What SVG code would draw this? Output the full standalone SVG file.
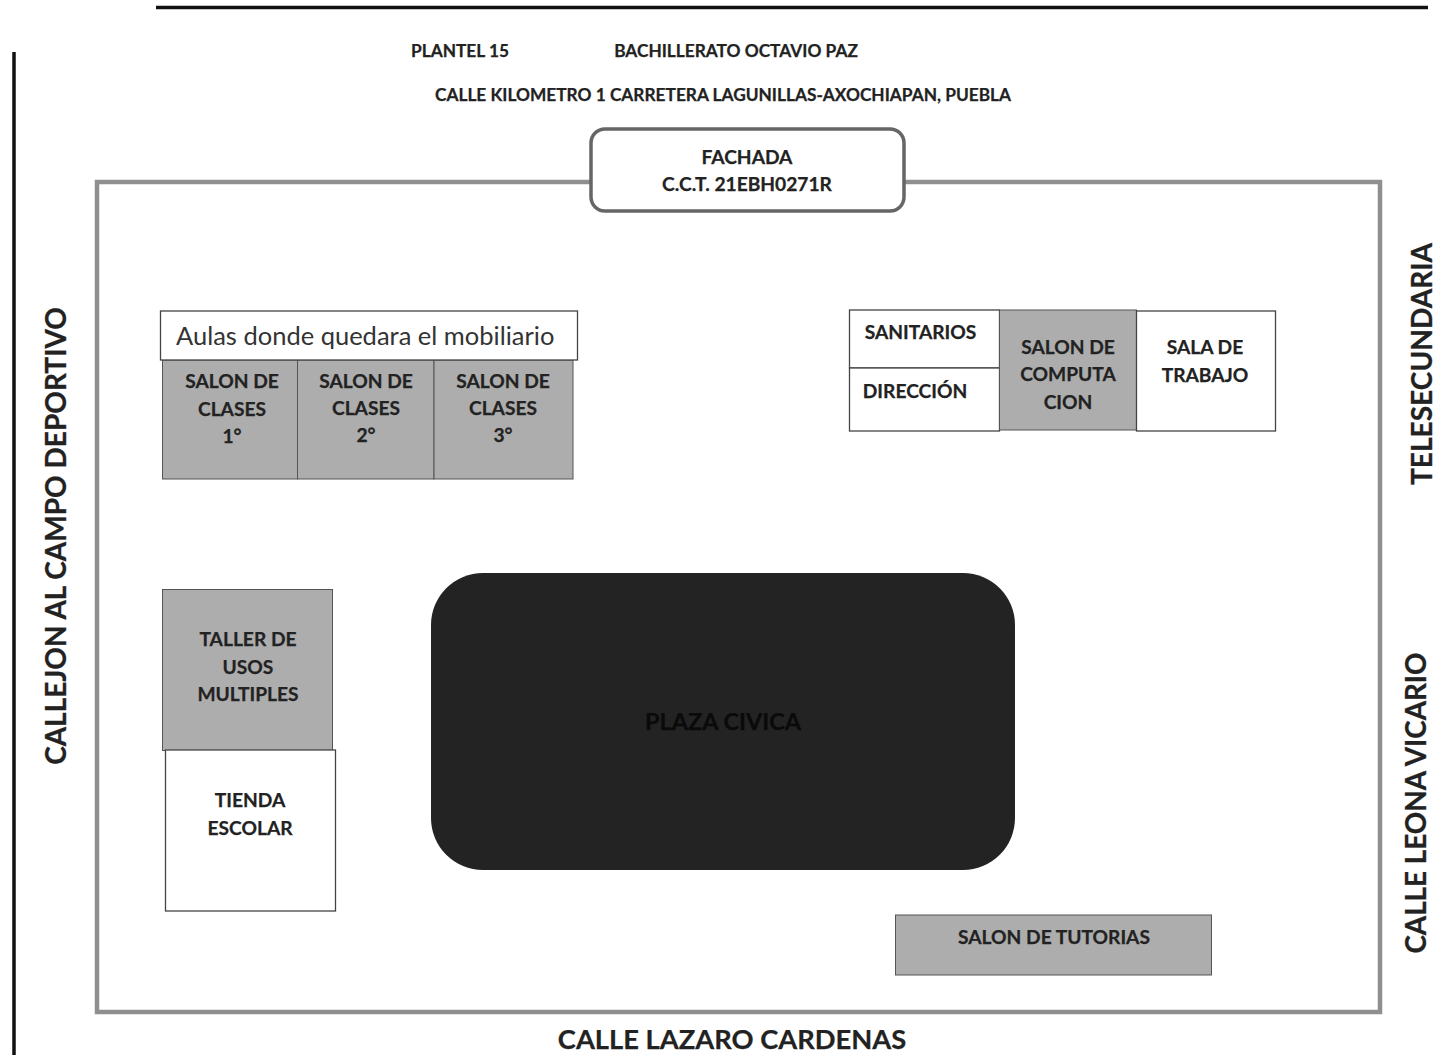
<svg xmlns="http://www.w3.org/2000/svg" width="1451" height="1055" viewBox="0 0 1451 1055">
<style>
.t{font-family:Lato,"Liberation Sans",sans-serif;font-weight:700;fill:#222;text-anchor:middle;stroke:#222;stroke-width:.25}
.s{font-size:19.200px}
.h{font-size:17.300px}
.b{font-size:28px}
.g{fill:#adadad;stroke:#555;stroke-width:1}
.w{fill:#fff;stroke:#444;stroke-width:1.3}
</style>
<rect width="1451" height="1055" fill="#fff"/>
<g id="page-lines" fill="none" stroke="#111">
<path d="M156 7.500H1428" stroke-width="3.500"/>
<path d="M14 52V1055" stroke-width="3.500"/>
</g>
<g id="headings">
<text class="t h" x="460" y="57">PLANTEL 15</text>
<text class="t h" x="736" y="57">BACHILLERATO OCTAVIO PAZ</text>
<text class="t h" x="723" y="101">CALLE KILOMETRO 1 CARRETERA LAGUNILLAS-AXOCHIAPAN, PUEBLA</text>
</g>
<g id="connectors">
<rect id="perimeter" x="97" y="182" width="1283" height="830" fill="#fff" stroke="#8f8f8f" stroke-width="4.500"/>
</g>
<g id="fachada">
<rect x="591" y="129" width="313" height="82" rx="14" fill="#fff" stroke="#666" stroke-width="3.500"/>
<text class="t s" x="747" y="164">FACHADA</text>
<text class="t s" x="747" y="191">C.C.T. 21EBH0271R</text>
</g>
<g id="aulas">
<rect class="g" x="162.500" y="360" width="135" height="119"/>
<rect class="g" x="297.500" y="360" width="136.500" height="119"/>
<rect class="g" x="434" y="360" width="139" height="119"/>
<rect class="w" x="160.500" y="311" width="417" height="49"/>
<text x="176" y="345" font-family="Lato,'Liberation Sans',sans-serif" font-size="25.500" fill="#333">Aulas donde quedara el mobiliario</text>
</g>
<g id="salon-1">
<text class="t s" x="232" y="388">SALON DE</text><text class="t s" x="232" y="416">CLASES</text><text class="t s" x="232" y="443">1°</text>
</g>
<g id="salon-2">
<text class="t s" x="366" y="388">SALON DE</text><text class="t s" x="366" y="415">CLASES</text><text class="t s" x="366" y="442">2°</text>
</g>
<g id="salon-3">
<text class="t s" x="503" y="388">SALON DE</text><text class="t s" x="503" y="415">CLASES</text><text class="t s" x="503" y="442">3°</text>
</g>
<g id="sanitarios">
<rect class="w" x="849.500" y="310" width="150" height="58"/>
<text class="t s" x="920.500" y="339">SANITARIOS</text>
</g>
<g id="direccion">
<rect class="w" x="849.500" y="368" width="150" height="63"/>
<text class="t s" x="915" y="398">DIRECCIÓN</text>
</g>
<g id="computacion">
<rect class="g" x="999.500" y="310" width="137" height="120"/>
<text class="t s" x="1068" y="354">SALON DE</text><text class="t s" x="1068" y="381">COMPUTA</text><text class="t s" x="1068" y="409">CION</text>
</g>
<g id="sala-trabajo">
<rect class="w" x="1136.500" y="311" width="139" height="120"/>
<text class="t s" x="1205" y="354">SALA DE</text><text class="t s" x="1205" y="382">TRABAJO</text>
</g>
<g id="taller">
<rect class="g" x="162.500" y="589.500" width="170" height="161"/>
<text class="t s" x="248" y="646">TALLER DE</text><text class="t s" x="248" y="674">USOS</text><text class="t s" x="248" y="701">MULTIPLES</text>
</g>
<g id="tienda">
<rect class="w" x="165.500" y="750" width="170" height="161"/>
<text class="t s" x="250" y="807">TIENDA</text><text class="t s" x="250" y="835">ESCOLAR</text>
</g>
<g id="plaza">
<rect x="431" y="573" width="584" height="297" rx="52" fill="#232323"/>
<text class="t" x="723" y="730" font-size="23.500" style="fill:#0a0a0a;stroke:#0a0a0a">PLAZA CIVICA</text>
</g>
<g id="tutorias">
<rect class="g" x="895.500" y="915" width="316" height="60"/>
<text class="t s" x="1054" y="944">SALON DE TUTORIAS</text>
</g>
<g id="streets">
<text class="t" font-size="27.300" x="732" y="1049">CALLE LAZARO CARDENAS</text>
<text class="t b" transform="translate(66 536) rotate(-90)">CALLEJON AL CAMPO DEPORTIVO</text>
<text class="t" font-size="28.100" transform="translate(1432 364) rotate(-90)">TELESECUNDARIA</text>
<text class="t" font-size="27.800" transform="translate(1426 803) rotate(-90)">CALLE LEONA VICARIO</text>
</g>
</svg>
